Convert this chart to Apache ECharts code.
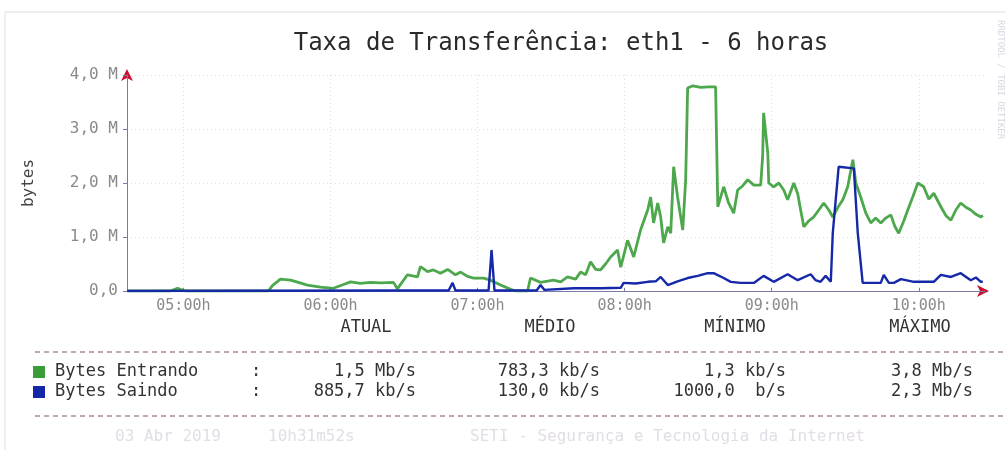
<!DOCTYPE html>
<html>
<head>
<meta charset="utf-8">
<title>Taxa de Transferência: eth1 - 6 horas</title>
<script src="https://cdn.jsdelivr.net/npm/echarts@6/dist/echarts.min.js"></script>
<style>
  html, body { margin: 0; padding: 0; background: #fff; }
  #chart { width: 1006px; height: 450px; }
</style>
</head>
<body>
<div id="chart"></div>
<script>
// tempo em minutos desde 00:00, valores em M bytes
const inTimes = [277.1, 294.7, 297.6, 300.8, 334.7, 336.3, 339.6, 343.7, 346.9, 350.6, 355.9, 361.2, 365.3, 368.2, 372.2, 376.3, 380.4, 385.7, 387.3, 391.4,
  395.5, 396.7, 399.6, 402.0, 404.9, 407.8, 411.0, 413.1, 415.9, 418.4, 422.4, 425.3, 429.4, 433.5, 435.5, 440.4, 441.6, 445.7, 451.0, 453.9,
  456.7, 460.0, 462.0, 464.1, 466.1, 468.2, 470.2, 472.2, 474.3, 477.1, 478.4, 481.2, 483.7, 486.5, 489.4, 490.6, 491.8, 493.5, 494.7, 495.9,
  497.6, 498.8, 500.0, 501.6, 503.7, 504.9, 505.7, 507.8, 511.0, 514.3, 517.1, 518.0, 520.4, 522.4, 524.5, 526.1, 528.2, 530.2, 532.7, 535.5,
  536.3, 536.7, 537.6, 538.4, 538.8, 540.8, 542.9, 544.9, 546.5, 549.0, 550.6, 551.8, 553.1, 555.1, 557.1, 559.2, 561.2, 563.3, 564.9, 567.0,
  569.0, 571.0, 573.1, 574.3, 576.3, 578.4, 580.4, 582.4, 584.5, 586.5, 588.6, 590.2, 591.8, 593.9, 595.5, 597.6, 599.6, 602.0, 604.1, 606.1,
  609.0, 611.0, 613.1, 615.1, 617.1, 619.2, 621.2, 623.3, 625.3, 626.1]
const inValues = [0, 0, 0.05, 0, 0, 0.1, 0.22, 0.2, 0.16, 0.11, 0.07, 0.05, 0.12, 0.17, 0.14, 0.16, 0.15, 0.16, 0.04, 0.3,
  0.26, 0.45, 0.36, 0.39, 0.33, 0.4, 0.3, 0.35, 0.27, 0.24, 0.24, 0.2, 0.11, 0.03, 0, 0, 0.24, 0.16, 0.2, 0.17,
  0.26, 0.22, 0.35, 0.3, 0.54, 0.4, 0.39, 0.5, 0.63, 0.76, 0.44, 0.94, 0.63, 1.13, 1.5, 1.74, 1.26, 1.63, 1.37, 0.89,
  1.19, 1.07, 2.3, 1.74, 1.13, 2.06, 3.76, 3.8, 3.77, 3.78, 3.78, 1.56, 1.93, 1.63, 1.44, 1.87, 1.95, 2.06, 1.96, 1.96,
  2.5, 3.3, 2.9, 2.55, 2.0, 1.93, 2.0, 1.87, 1.69, 2.0, 1.8, 1.5, 1.19, 1.3, 1.37, 1.5, 1.63, 1.5, 1.37, 1.55,
  1.69, 1.93, 2.43, 2.0, 1.74, 1.44, 1.26, 1.35, 1.26, 1.35, 1.41, 1.2, 1.07, 1.3, 1.5, 1.75, 2.0, 1.93, 1.7, 1.81,
  1.56, 1.4, 1.31, 1.5, 1.63, 1.55, 1.5, 1.42, 1.37, 1.4]

const outTimes = [277.1, 388.6, 408.2, 409.8, 411.0, 424.5, 425.3, 425.7, 426.1, 426.9, 444.1, 445.7, 447.3, 459.2, 470.2, 478.4, 479.6, 484.5, 489.4, 492.7,
  494.7, 497.6, 501.6, 505.7, 509.8, 513.9, 516.3, 520.0, 523.3, 527.3, 532.7, 536.7, 540.8, 546.5, 550.6, 555.9, 557.9, 559.9, 562.0, 564.1,
  564.9, 567.3, 573.5, 575.1, 577.1, 584.5, 585.7, 587.8, 589.8, 592.7, 598.0, 606.1, 609.0, 613.1, 617.1, 621.2, 623.3, 625.3, 626.1]
const outValues = [0, 0.01, 0.01, 0.15, 0.01, 0.01, 0.5, 0.76, 0.76, 0.01, 0.01, 0.11, 0.02, 0.05, 0.05, 0.06, 0.15, 0.14, 0.17, 0.18,
  0.26, 0.11, 0.18, 0.24, 0.28, 0.33, 0.33, 0.25, 0.17, 0.15, 0.15, 0.28, 0.17, 0.31, 0.2, 0.31, 0.2, 0.17, 0.28, 0.17,
  1.07, 2.3, 2.27, 1.07, 0.15, 0.15, 0.3, 0.15, 0.15, 0.22, 0.17, 0.17, 0.3, 0.26, 0.33, 0.2, 0.25, 0.17, 0.17]

const hourTicks = [300, 360, 420, 480, 540, 600]
const seriesNames = ['Bytes Entrando', 'Bytes Saindo']
const statHeaders = ['ATUAL', 'MÉDIO', 'MÍNIMO', 'MÁXIMO']
const inStats = ['1,5 Mb/s', '783,3 kb/s', '1,3 kb/s', '3,8 Mb/s']
const outStats = ['885,7 kb/s', '130,0 kb/s', '1000,0  b/s', '2,3 Mb/s']
const footerParts = ['03 Abr 2019', '10h31m52s', 'SETI - Segurança e Tecnologia da Internet']

const MONO = '"DejaVu Sans Mono", "Liberation Mono", monospace'
const GREEN = '#3a9d3a'
const BLUE = '#1428a8'
const AXIS = '#7a7aa6'
const ARROW = '#c8102e'

const chart = echarts.init(document.getElementById('chart'))

const headerX = [366, 550, 735, 920]
const valueX = [416, 600, 786, 973]
const footerX = [115, 268, 470]

function txt (text, x, y, size, color, align) {
  return {
    type: 'text',
    silent: true,
    style: {
      text: text,
      x: x,
      y: y,
      font: size + 'px ' + MONO,
      fill: color,
      textAlign: align || 'left',
      textVerticalAlign: 'middle'
    }
  }
}

const graphics = [
  // moldura
  { type: 'rect', silent: true, shape: { x: 5, y: 12, width: 1010, height: 450 }, style: { fill: 'none', stroke: '#e2dde6', lineWidth: 1 } },
  // linhas tracejadas da legenda
  { type: 'line', silent: true, shape: { x1: 35, y1: 352, x2: 1004, y2: 352 }, style: { stroke: '#7a5060', lineWidth: 1, lineDash: [5, 4] } },
  { type: 'line', silent: true, shape: { x1: 35, y1: 416, x2: 1004, y2: 416 }, style: { stroke: '#7a5060', lineWidth: 1, lineDash: [5, 4] } },
  // quadrados de cor
  { type: 'rect', silent: true, shape: { x: 33, y: 366, width: 12, height: 12 }, style: { fill: GREEN } },
  { type: 'rect', silent: true, shape: { x: 33, y: 386, width: 12, height: 12 }, style: { fill: BLUE } },
  txt(seriesNames[0], 55, 372, 17, '#333'),
  txt(seriesNames[1], 55, 392, 17, '#333'),
  txt(':', 251, 372, 17, '#333'),
  txt(':', 251, 392, 17, '#333'),
  {
    type: 'text',
    silent: true,
    x: 1000,
    y: 20,
    rotation: -Math.PI / 2,
    style: { text: 'RRDTOOL / TOBI OETIKER', font: '9px ' + MONO, fill: '#d6d6e4', textVerticalAlign: 'middle' }
  }
]
statHeaders.forEach((h, i) => graphics.push(txt(h, headerX[i], 328, 17, '#333', 'center')))
inStats.forEach((v, i) => graphics.push(txt(v, valueX[i], 372, 17, '#333', 'right')))
outStats.forEach((v, i) => graphics.push(txt(v, valueX[i], 392, 17, '#333', 'right')))
footerParts.forEach((v, i) => graphics.push(txt(v, footerX[i], 437, 16, '#e2dde6')))

const xBase = { type: 'value', min: 277, max: 627, gridIndex: 0, position: 'bottom' }
const yBase = { type: 'value', min: 0, max: 4, gridIndex: 0, position: 'left' }

chart.setOption({
  animation: false,
  backgroundColor: '#fff',
  title: {
    text: 'Taxa de Transferência: eth1 - 6 horas',
    left: 556,
    top: 27,
    textAlign: 'center',
    textStyle: { fontFamily: MONO, fontSize: 24, fontWeight: 'normal', color: '#2a2a2a' }
  },
  grid: { left: 127, right: 21, top: 75, bottom: 159 },
  xAxis: [
    Object.assign({}, xBase, {
      z: 3,
      axisLine: { show: true, onZero: false, lineStyle: { color: AXIS, width: 1 } },
      axisTick: { show: true, customValues: hourTicks, length: 3, inside: true, lineStyle: { color: AXIS } },
      axisLabel: {
        customValues: hourTicks,
        color: '#8a8a8a',
        fontFamily: MONO,
        fontSize: 15,
        margin: 8,
        formatter: v => String(Math.floor(v / 60)).padStart(2, '0') + ':00h'
      },
      splitLine: { show: true, lineStyle: { color: '#f0d8d8', type: [1, 3] } }
    }),
    Object.assign({}, xBase, {
      z: 2,
      axisLine: { show: true, onZero: false, symbol: ['none', 'arrow'], symbolSize: [9, 12], symbolOffset: [0, 4], lineStyle: { color: ARROW, width: 1 } },
      axisTick: { show: false },
      axisLabel: { show: false },
      splitLine: { show: false }
    })
  ],
  yAxis: [
    Object.assign({}, yBase, {
      z: 3,
      interval: 1,
      name: 'bytes',
      nameLocation: 'middle',
      nameGap: 90,
      nameRotate: 90,
      nameTextStyle: { fontFamily: MONO, fontSize: 16, color: '#444' },
      axisLine: { show: true, onZero: false, lineStyle: { color: AXIS, width: 1 } },
      axisTick: { show: true, length: 4, lineStyle: { color: AXIS } },
      axisLabel: {
        color: '#8a8a8a',
        fontFamily: MONO,
        fontSize: 16,
        margin: 9,
        formatter: v => v === 0 ? '0,0' : v.toFixed(1).replace('.', ',') + ' M'
      },
      splitLine: { show: true, lineStyle: { color: '#f0d8d8', type: [1, 3] } }
    }),
    Object.assign({}, yBase, {
      z: 2,
      interval: 1,
      axisLine: { show: true, onZero: false, symbol: ['none', 'arrow'], symbolSize: [9, 12], symbolOffset: [0, 6], lineStyle: { color: ARROW, width: 1 } },
      axisTick: { show: false },
      axisLabel: { show: false },
      splitLine: { show: false }
    })
  ],
  series: [
    {
      name: seriesNames[0],
      type: 'line',
      xAxisIndex: 0,
      yAxisIndex: 0,
      showSymbol: false,
      data: inTimes.map((t, i) => [t, inValues[i]]),
      lineStyle: { color: GREEN, width: 2.8, opacity: 0.9 },
      z: 3
    },
    {
      name: seriesNames[1],
      type: 'line',
      xAxisIndex: 0,
      yAxisIndex: 0,
      showSymbol: false,
      data: outTimes.map((t, i) => [t, outValues[i]]),
      lineStyle: { color: BLUE, width: 2.4 },
      z: 4
    }
  ],
  graphic: graphics
})
</script>
</body>
</html>
